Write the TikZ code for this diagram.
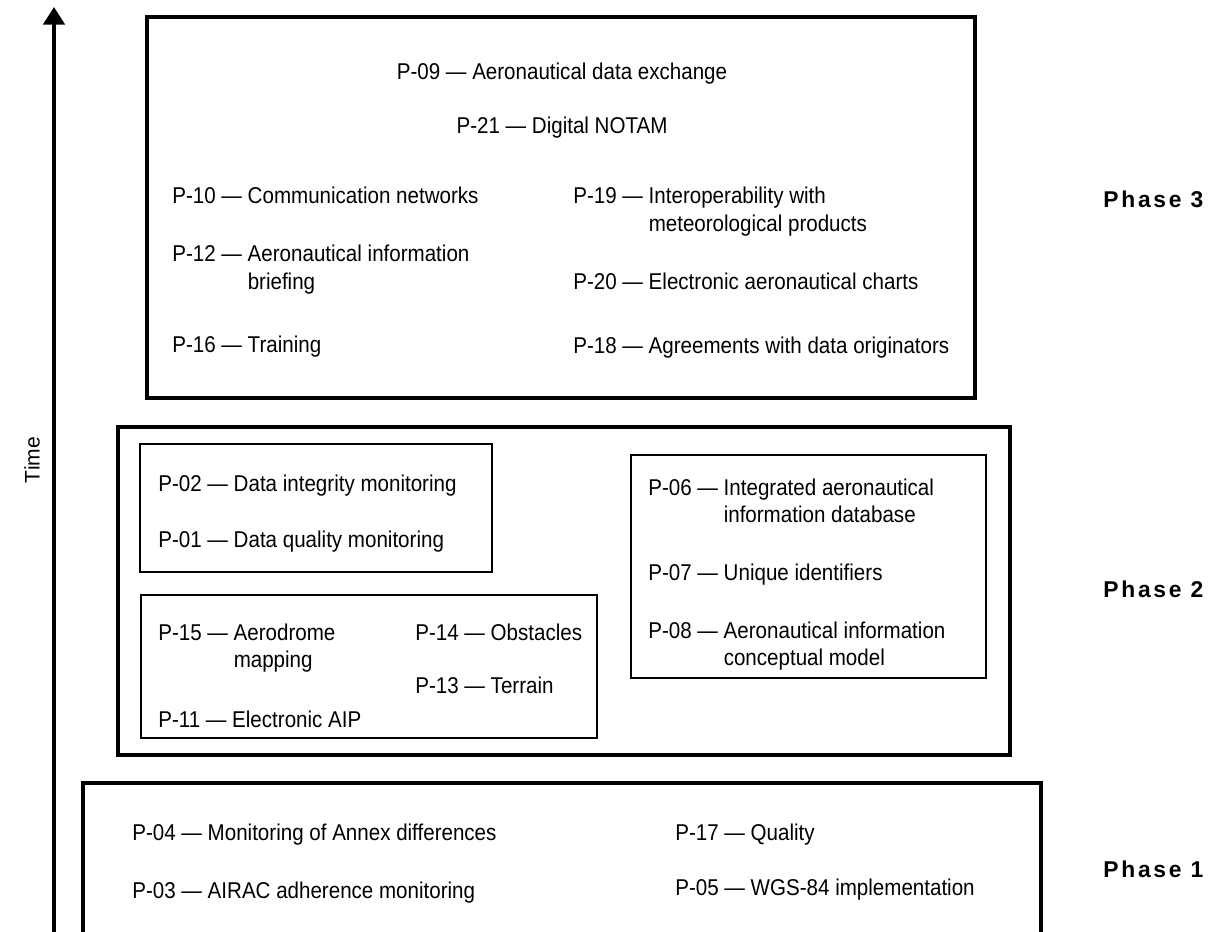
\documentclass[tikz,border=0pt]{standalone}
\usepackage{fontspec}
\setmainfont{Liberation Sans}
\newfontfamily\narrowfont{Liberation Sans}[FakeStretch=0.9]
\newfontfamily\phasefont{Liberation Sans}[LetterSpace=12]
\usetikzlibrary{arrows.meta,positioning}
\tikzset{%
phasebox/.style={line width=1.8pt},
groupbox/.style={line width=0.7pt},
item/.style={anchor=base west, inner sep=0pt, font=\narrowfont\fontsize{13}{15.9}\selectfont},
phaselabel/.style={anchor=base west, inner sep=0pt, font=\phasefont\bfseries\fontsize{13}{15}\selectfont}
}
% project entry with hanging second line
\newcommand{\proj}[2]{#1 — \begin{tabular}[t]{@{}l@{}}#2\end{tabular}}

\begin{document}
\begin{tikzpicture}[x=0.02cm,y=-0.02cm]
\useasboundingbox (0,0) rectangle (1216,932);

% time axis
\coordinate (tstart) at (54,932);
\coordinate (tend) at (54,7);
\draw[line width=2.4pt,-{Triangle[width=12pt,length=10pt]}] (tstart) -- (tend);
\node[rotate=90, font=\fontsize{12}{14}\selectfont] (time) at (32,460) {Time};

% phase 3
\draw[phasebox] (147,17) rectangle (975,398);
\node[item, anchor=base] (p09) at (562,80) {\proj{P-09}{Aeronautical data exchange}};
\node[item, anchor=base] (p21) at (562,134) {\proj{P-21}{Digital NOTAM}};
\node[item] (p10) at (172,204) {\proj{P-10}{Communication networks}};
\node[item] (p12) at (172,262) {\proj{P-12}{Aeronautical information\\briefing}};
\node[item] (p16) at (172,352) {\proj{P-16}{Training}};
\node[item] (p19) at (573,204) {\proj{P-19}{Interoperability with\\meteorological products}};
\node[item] (p20) at (573,290) {\proj{P-20}{Electronic aeronautical charts}};
\node[item] (p18) at (573,353) {\proj{P-18}{Agreements with data originators}};
\node[phaselabel] (ph3) at (1103,208) {Phase 3};

% phase 2
\draw[phasebox] (118,427) rectangle (1010,755);
\draw[groupbox] (140,444) rectangle (492,572);
\draw[groupbox] (141,595) rectangle (597,738);
\draw[groupbox] (631,455) rectangle (986,678);
\node[item] (p02) at (158,491) {\proj{P-02}{Data integrity monitoring}};
\node[item] (p01) at (158,547) {\proj{P-01}{Data quality monitoring}};
\node[item] (p15) at (158,640) {\proj{P-15}{Aerodrome\\mapping}};
\node[item] (p14) at (415,640) {\proj{P-14}{Obstacles}};
\node[item] (p13) at (415,693) {\proj{P-13}{Terrain}};
\node[item] (p11) at (158,727) {\proj{P-11}{Electronic AIP}};
\node[item] (p06) at (648,495) {\proj{P-06}{Integrated aeronautical\\information database}};
\node[item] (p07) at (648,580) {\proj{P-07}{Unique identifiers}};
\node[item] (p08) at (648,638) {\proj{P-08}{Aeronautical information\\conceptual model}};
\node[phaselabel] (ph2) at (1103,597) {Phase 2};

% phase 1 (runs off the bottom)
\draw[phasebox] (83,932) -- (83,783) -- (1041,783) -- (1041,932);
\node[item] (p04) at (132,840) {\proj{P-04}{Monitoring of Annex differences}};
\node[item] (p03) at (132,898) {\proj{P-03}{AIRAC adherence monitoring}};
\node[item] (p17) at (675,840) {\proj{P-17}{Quality}};
\node[item] (p05) at (675,895) {\proj{P-05}{WGS-84 implementation}};
\node[phaselabel] (ph1) at (1103,877) {Phase 1};
\end{tikzpicture}
\end{document}
